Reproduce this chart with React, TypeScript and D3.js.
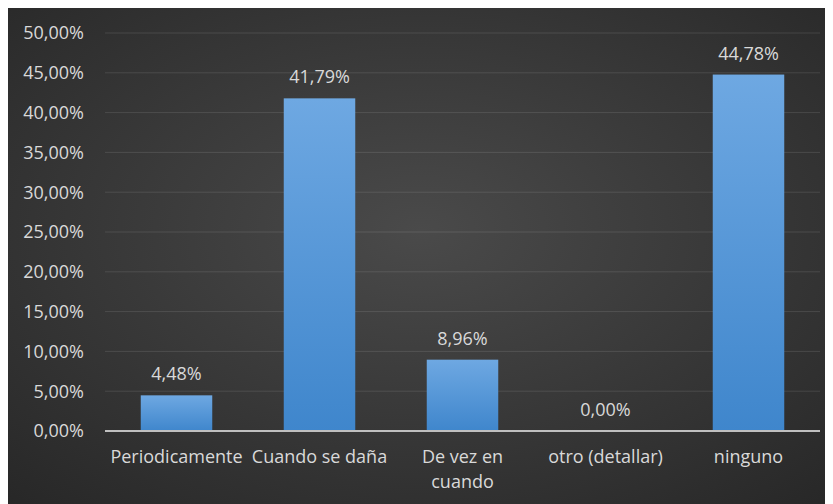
import React, { useEffect, useRef } from "react";
import * as d3 from "d3";

const categories: string[] = ["Periodicamente", "Cuando se daña", "De vez en cuando", "otro (detallar)", "ninguno"];
const values: number[] = [4.48, 41.79, 8.96, 0.0, 44.78];
const yTicks: number[] = [0, 5, 10, 15, 20, 25, 30, 35, 40, 45, 50];

const W = 825;
const H = 496;
const FONT = "'Open Sans', sans-serif";

const fmt = (v: number) => v.toFixed(2).replace(".", ",") + "%";

export default function App() {
  const ref = useRef<SVGSVGElement | null>(null);

  useEffect(() => {
    const svg = d3.select(ref.current);
    svg.selectAll("*").remove();

    const defs = svg.append("defs");
    const bg = defs.append("radialGradient").attr("id", "bg").attr("cx", "50%").attr("cy", "45%").attr("r", "75%");
    bg.append("stop").attr("offset", "0%").attr("stop-color", "#4a4a4a");
    bg.append("stop").attr("offset", "100%").attr("stop-color", "#272727");
    const bar = defs.append("linearGradient").attr("id", "bar").attr("x1", 0).attr("y1", 0).attr("x2", 0).attr("y2", 1);
    bar.append("stop").attr("offset", "0%").attr("stop-color", "#6ea8e2");
    bar.append("stop").attr("offset", "100%").attr("stop-color", "#3f86cc");

    svg.append("rect").attr("width", W).attr("height", H).attr("fill", "url(#bg)");

    const x = d3.scaleBand<string>().domain(categories).range([97, 812]).paddingInner(0.5).paddingOuter(0.25);
    const y = d3.scaleLinear().domain([0, 50]).range([423, 25]);

    // gridlines
    svg.append("g").selectAll("line").data(yTicks.filter((t) => t > 0)).join("line")
      .attr("x1", 97).attr("x2", 812)
      .attr("y1", (d) => y(d)).attr("y2", (d) => y(d))
      .attr("stroke", "rgba(255,255,255,0.11)").attr("stroke-width", 1);

    // y labels
    svg.append("g").selectAll("text").data(yTicks).join("text")
      .attr("x", 76).attr("y", (d) => y(d)).attr("dy", "0.36em")
      .attr("text-anchor", "end").attr("fill", "#d9d9d9")
      .style("font-family", FONT).style("font-size", "18px")
      .text((d) => fmt(d));

    // bars
    svg.append("g").selectAll("rect").data(values).join("rect")
      .attr("x", (_d, i) => x(categories[i])!)
      .attr("width", x.bandwidth())
      .attr("y", (d) => y(d))
      .attr("height", (d) => y(0) - y(d))
      .attr("fill", "url(#bar)");

    // value labels
    svg.append("g").selectAll("text").data(values).join("text")
      .attr("x", (_d, i) => x(categories[i])! + x.bandwidth() / 2)
      .attr("y", (d) => y(d) - 15)
      .attr("text-anchor", "middle").attr("fill", "#d9d9d9")
      .style("font-family", FONT).style("font-size", "18px")
      .text((d) => fmt(d));

    // axis line
    svg.append("line").attr("x1", 97).attr("x2", 812).attr("y1", y(0)).attr("y2", y(0))
      .attr("stroke", "#bfbfbf").attr("stroke-width", 2);

    // category labels with wrapping
    const step = x.step();
    const labels = svg.append("g").selectAll("text").data(categories).join("text")
      .attr("x", (d) => x(d)! + x.bandwidth() / 2)
      .attr("y", 455)
      .attr("text-anchor", "middle").attr("fill", "#d9d9d9")
      .style("font-family", FONT).style("font-size", "18px");

    labels.each(function (d) {
      const t = d3.select(this);
      const cx = +t.attr("x");
      const words = d.split(" ");
      const lines: string[] = [];
      let cur: string[] = [];
      const probe = t.append("tspan");
      for (const w of words) {
        const test = [...cur, w].join(" ");
        probe.text(test);
        if ((probe.node() as SVGTSpanElement).getComputedTextLength() > step - 2 && cur.length) {
          lines.push(cur.join(" "));
          cur = [w];
        } else {
          cur.push(w);
        }
      }
      lines.push(cur.join(" "));
      probe.remove();
      lines.forEach((ln, i) => {
        t.append("tspan").attr("x", cx).attr("dy", i === 0 ? 0 : 25).text(ln);
      });
    });
  }, []);

  return <svg ref={ref} width={W} height={H} style={{ display: "block" }} />;
}
